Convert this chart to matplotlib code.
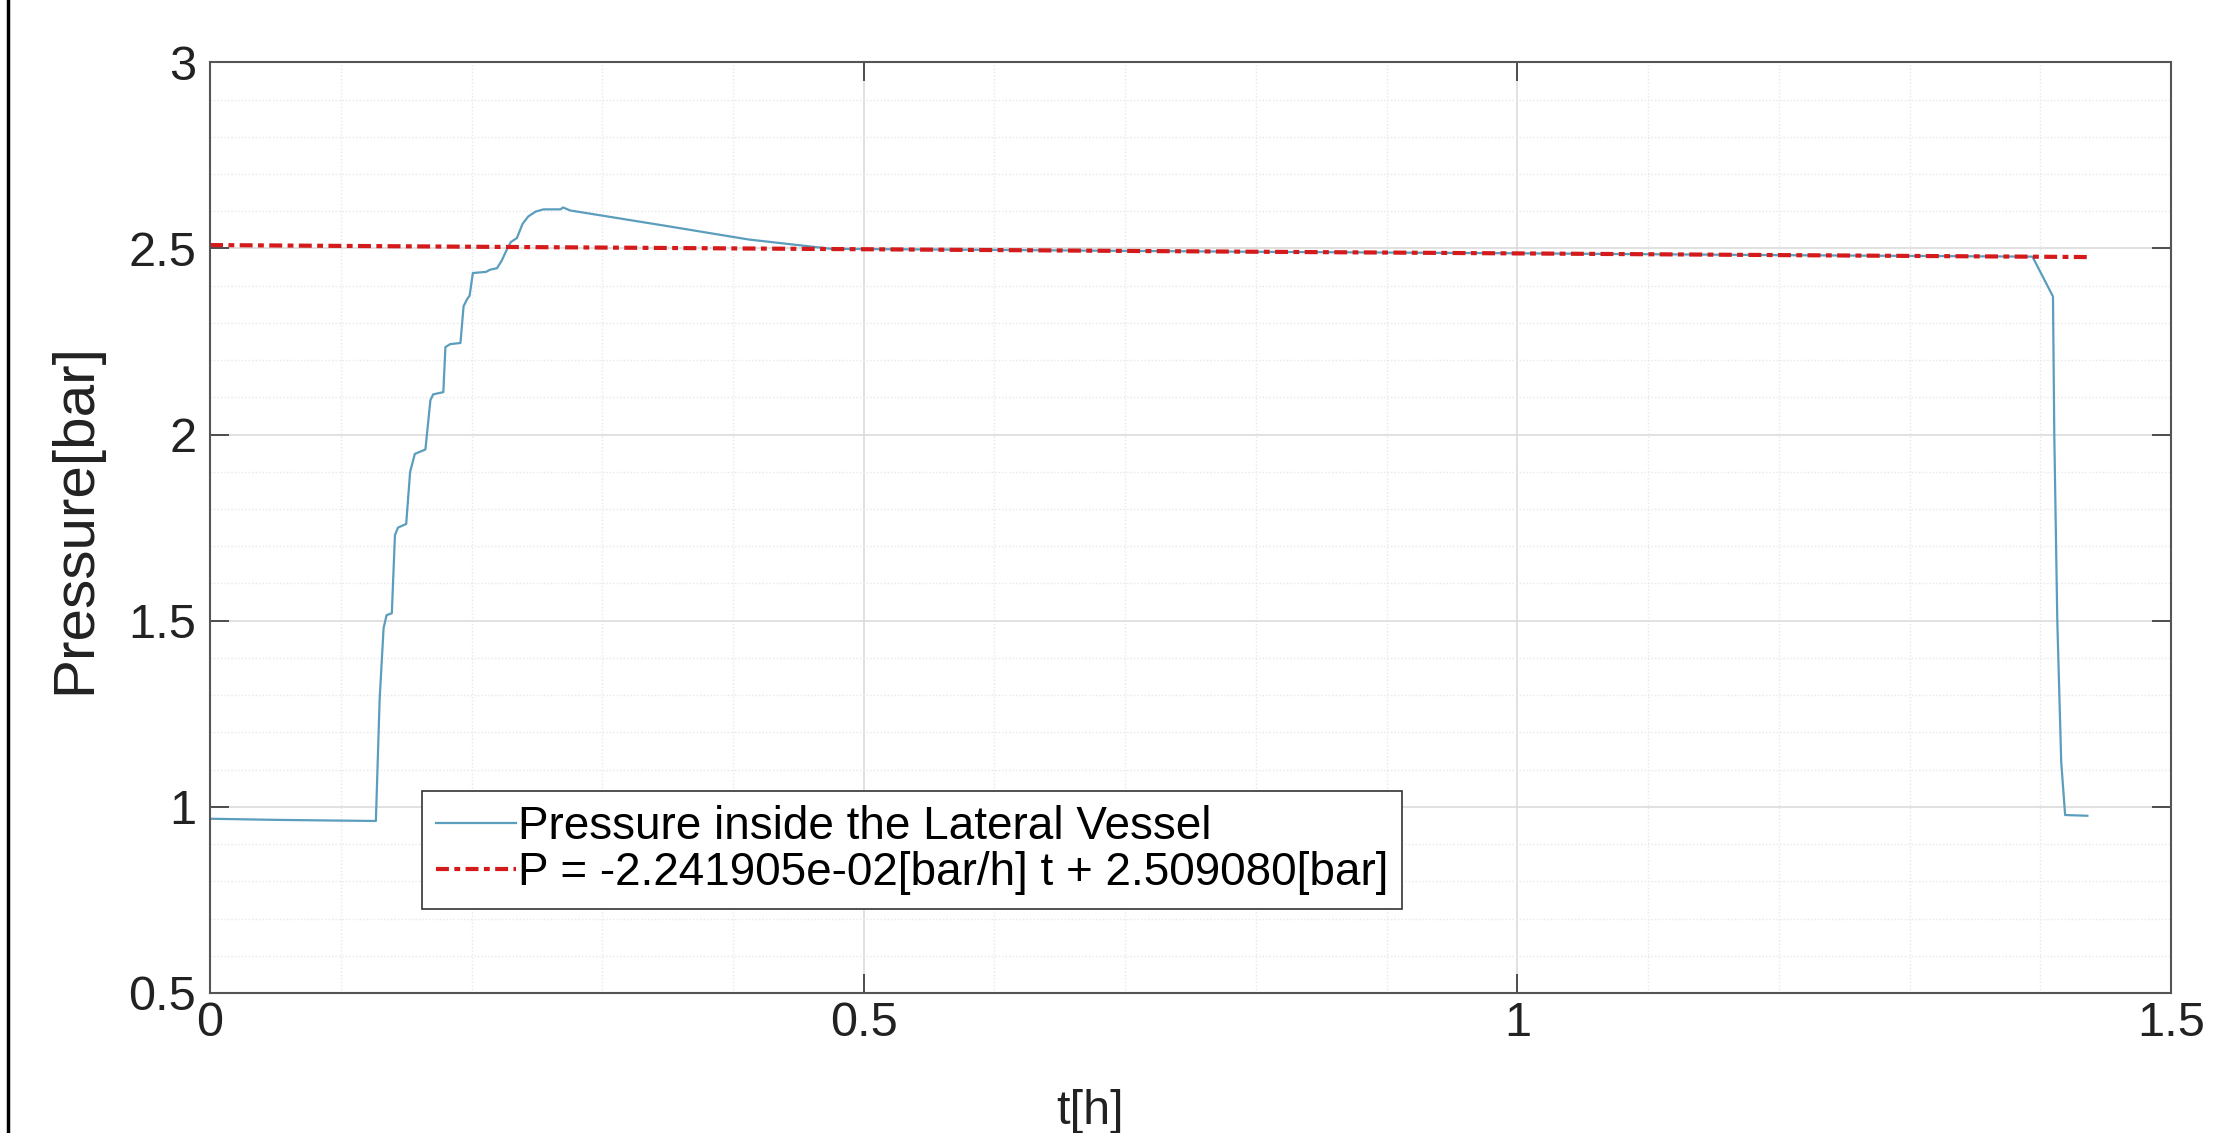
import matplotlib
matplotlib.use("Agg")
import matplotlib.pyplot as plt
import numpy as np
from matplotlib.ticker import MultipleLocator
from matplotlib.lines import Line2D

# presion medida en el recipiente lateral
t_med = [0.0, 0.05, 0.10, 0.1268, 0.1297, 0.1327, 0.135, 0.139, 0.1414, 0.1437,
         0.150, 0.153, 0.1566, 0.1647, 0.1685, 0.1706, 0.1784, 0.180, 0.1837, 0.1915,
         0.1939, 0.1968, 0.1985, 0.201, 0.211, 0.2143, 0.2195, 0.223, 0.2274, 0.230,
         0.2347, 0.239, 0.2434, 0.249, 0.255, 0.268, 0.270, 0.2755, 0.348, 0.412,
         0.475, 0.6, 0.8, 1.0, 1.2, 1.394, 1.4097, 1.4107, 1.413, 1.416, 1.419, 1.436]
p_med = [0.968, 0.965, 0.963, 0.962, 1.29, 1.48, 1.515, 1.52, 1.73, 1.75,
         1.76, 1.90, 1.948, 1.96, 2.092, 2.108, 2.114, 2.235, 2.243, 2.246,
         2.345, 2.365, 2.373, 2.434, 2.437, 2.443, 2.447, 2.467, 2.50, 2.517,
         2.528, 2.566, 2.586, 2.599, 2.605, 2.605, 2.61, 2.602, 2.561, 2.524,
         2.499, 2.496, 2.491, 2.487, 2.482, 2.478, 2.371, 2.0, 1.5, 1.12, 0.978, 0.976]

# ajuste lineal
pendiente = -2.241905e-02
ordenada = 2.509080
t_ajuste = [0.0, 1.436]

etiqueta_med = "Pressure inside the Lateral Vessel"
etiqueta_ajuste = "P = %e[bar/h] t + %f[bar]" % (pendiente, ordenada)

plt.rcParams["font.family"] = ["Liberation Sans", "DejaVu Sans"]

fig = plt.figure(figsize=(22.21, 11.33), dpi=100)
ax = fig.add_axes([0.0946, 0.1236, 0.8829, 0.8214])

p_ajuste = pendiente * np.array(t_ajuste) + ordenada

ax.plot(t_med, p_med, color="#5b9dbd", linewidth=1.6, label=etiqueta_med)
ax.plot(t_ajuste, p_ajuste, color="#d41a1a", linewidth=3,
        linestyle=(0, (3.1, 1.3, 1.4, 1.3)), label=etiqueta_ajuste)

ax.set_xlim(0, 1.5)
ax.set_ylim(0.5, 3)
ax.xaxis.set_minor_locator(MultipleLocator(0.1))
ax.yaxis.set_minor_locator(MultipleLocator(0.1))
ax.set_xticks([0, 0.5, 1, 1.5], ["0", "0.5", "1", "1.5"])
ax.set_yticks([0.5, 1, 1.5, 2, 2.5, 3], ["0.5", "1", "1.5", "2", "2.5", "3"])

ax.grid(True, which="major", color="#dcdcdc", linewidth=1.2)
ax.grid(True, which="minor", color="#e8e8e8", linewidth=1.0, linestyle=(0, (1, 1.5)))
ax.set_axisbelow(True)

ax.tick_params(which="major", direction="in", length=14, width=1.2, color="#333333",
               top=True, right=True, labelsize=35, labelcolor="#222222")
ax.tick_params(which="minor", length=0)
ax.tick_params(axis="x", pad=6)
ax.tick_params(axis="y", pad=10)
for s in ax.spines.values():
    s.set_color("#555555")
    s.set_linewidth(1.5)

ax.set_xlabel("t[h]", fontsize=35, color="#222222")
ax.set_ylabel("Pressure[bar]", fontsize=42, color="#222222")
ax.xaxis.set_label_coords(0.449, -0.103)
ax.yaxis.set_label_coords(-0.055, 0.51)

leg = ax.legend(loc="lower left", bbox_to_anchor=(0.108, 0.09), fontsize=33,
                frameon=True, fancybox=False, framealpha=1, edgecolor="#333333",
                handlelength=1.75, handletextpad=0.05, labelspacing=0.05,
                borderpad=0.3, borderaxespad=0)
leg.get_frame().set_linewidth(1.2)

# borde izquierdo de la figura
fig.add_artist(Line2D([0.0036, 0.0036], [0, 1], transform=fig.transFigure,
                      color="black", linewidth=2.5))

fig.savefig("out.png", dpi=100)
